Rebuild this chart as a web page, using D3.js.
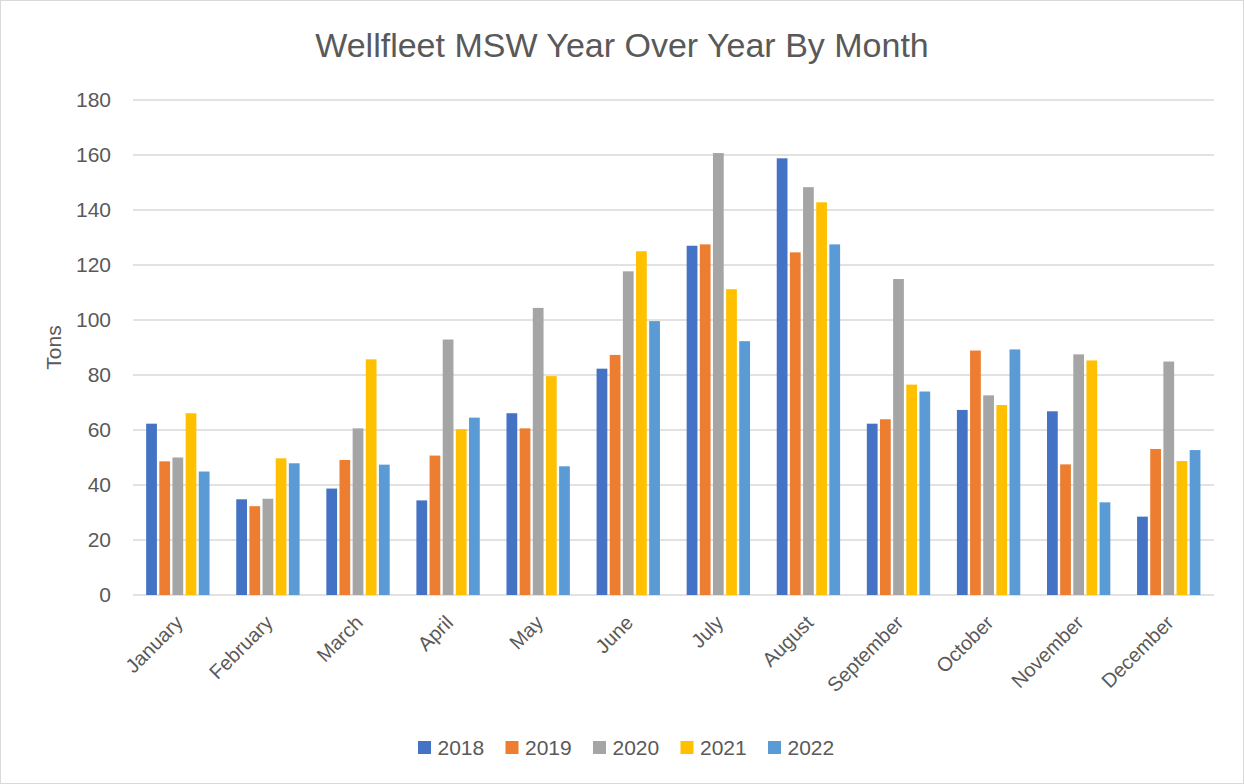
<!DOCTYPE html>
<html>
<head>
<meta charset="utf-8">
<script src="https://cdn.jsdelivr.net/npm/d3@7"></script>
<style>
  body { margin: 0; background: #fff; }
  .chart text { font-family: "Liberation Sans", Arial, sans-serif; fill: #595959; }
</style>
</head>
<body>
<div class="chart"></div>
<script>
// DATA ------------------------------
const months = ['January', 'February', 'March', 'April', 'May', 'June', 'July',
  'August', 'September', 'October', 'November', 'December'];
const years = ['2018', '2019', '2020', '2021', '2022'];
const tons2018 = [62.3, 34.8, 38.7, 34.4, 66.1, 82.3, 127.0, 158.8, 62.3, 67.3, 66.8, 28.5];
const tons2019 = [48.6, 32.3, 49.1, 50.7, 60.6, 87.3, 127.5, 124.6, 63.9, 88.9, 47.5, 53.1];
const tons2020 = [50.0, 35.0, 60.6, 92.9, 104.4, 117.7, 160.7, 148.3, 114.9, 72.6, 87.5, 84.9];
const tons2021 = [66.1, 49.7, 85.7, 60.3, 79.6, 125.0, 111.2, 142.8, 76.5, 69.1, 85.3, 48.7];
const tons2022 = [44.9, 47.9, 47.4, 64.5, 46.8, 99.6, 92.3, 127.5, 74.0, 89.3, 33.7, 52.7];
const yTicks = [0, 20, 40, 60, 80, 100, 120, 140, 160, 180];
const colors = ['#4472C4', '#ED7D31', '#A5A5A5', '#FFC000', '#5B9BD5'];

const series = [tons2018, tons2019, tons2020, tons2021, tons2022];
const data = months.map((m, i) => ({
  month: m,
  values: years.map((y, j) => ({ year: y, value: series[j][i], color: colors[j] }))
}));

// CHART INIT ------------------------------
const W = 1244, H = 784;
const margin = { top: 100, right: 30, bottom: 189, left: 133 };
const width = W - margin.left - margin.right;
const height = H - margin.top - margin.bottom;

const svg = d3.select('.chart').append('svg')
  .attr('width', W)
  .attr('height', H);

// outer border
svg.append('rect')
  .attr('x', 0.5).attr('y', 0.5)
  .attr('width', W - 1).attr('height', H - 1)
  .attr('fill', '#fff')
  .attr('stroke', '#d9d9d9');

const group = svg.append('g')
  .attr('transform', 'translate(' + margin.left + ',' + margin.top + ')');

const x0 = d3.scaleBand().domain(months).range([0, width])
  .paddingInner(0.27).paddingOuter(0.135);
const x1 = d3.scaleBand().domain(years).range([0, x0.bandwidth()]);
const y = d3.scaleLinear().domain([0, 180]).range([height, 0]);

// gridlines
group.append('g')
  .selectAll('line')
  .data(yTicks)
  .join('line')
  .attr('x1', 0).attr('x2', width)
  .attr('y1', (d) => y(d)).attr('y2', (d) => y(d))
  .attr('stroke', '#d9d9d9')
  .attr('stroke-width', 1.5);

// y axis labels
const yAxis = d3.axisLeft(y).tickValues(yTicks).tickSize(0).tickPadding(22);
group.append('g').call(yAxis)
  .call((g) => g.select('.domain').remove())
  .selectAll('text')
  .attr('font-size', 21);

// bars
const groups = group.selectAll('.month')
  .data(data)
  .join('g')
  .attr('class', 'month')
  .attr('transform', (d) => 'translate(' + x0(d.month) + ',0)');

groups.selectAll('rect')
  .data((d) => d.values)
  .join('rect')
  .attr('x', (d) => x1(d.year) + 1)
  .attr('y', (d) => y(d.value))
  .attr('width', x1.bandwidth() - 2.4)
  .attr('height', (d) => height - y(d.value))
  .attr('fill', (d) => d.color);

// x axis labels (rotated)
const xAxis = d3.axisBottom(x0).tickSize(0).tickPadding(0);
const xAxisGroup = group.append('g')
  .attr('transform', 'translate(0,' + height + ')')
  .call(xAxis);
xAxisGroup.select('.domain').remove();
xAxisGroup.selectAll('text')
  .attr('font-size', 20)
  .attr('text-anchor', 'end')
  .attr('dy', 0)
  .attr('y', 0)
  .attr('transform', 'translate(6,29) rotate(-45)');

// title
svg.append('text')
  .attr('x', 622).attr('y', 57)
  .attr('text-anchor', 'middle')
  .attr('font-size', 34)
  .text('Wellfleet MSW Year Over Year By Month');

// y axis title
svg.append('text')
  .attr('transform', 'translate(61,' + (margin.top + height / 2) + ') rotate(-90)')
  .attr('text-anchor', 'middle')
  .attr('font-size', 21)
  .text('Tons');

// legend
const legend = svg.append('g').attr('transform', 'translate(418,741)');
const item = legend.selectAll('g')
  .data(years)
  .join('g')
  .attr('transform', (d, i) => 'translate(' + i * 87.5 + ',0)');
item.append('rect')
  .attr('width', 13).attr('height', 13)
  .attr('fill', (d, i) => colors[i]);
item.append('text')
  .attr('x', 19.5).attr('y', 14)
  .attr('font-size', 21)
  .text((d) => d);
</script>
</body>
</html>
